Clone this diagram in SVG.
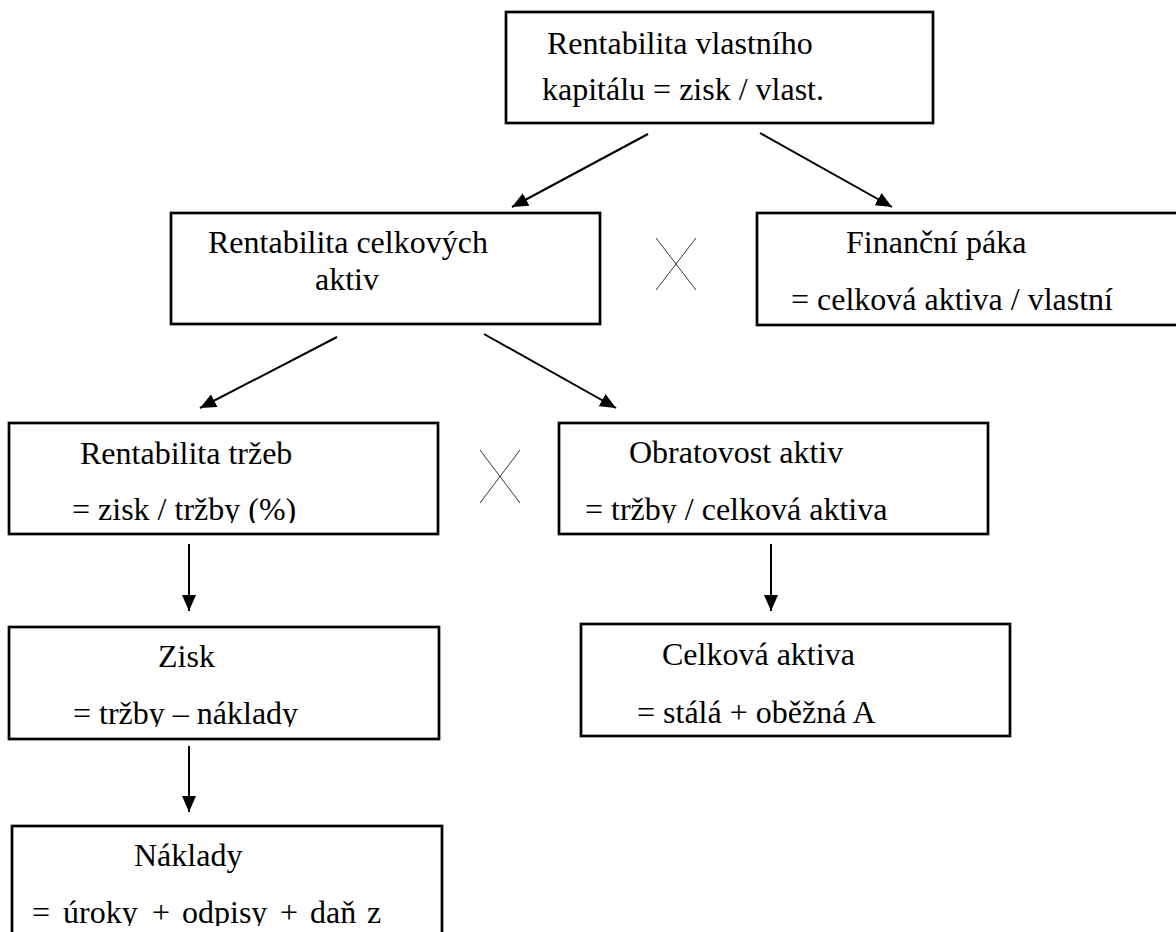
<svg xmlns="http://www.w3.org/2000/svg" width="1176" height="932" viewBox="0 0 1176 932">
<style>
.box{fill:#fff;stroke:#000;stroke-width:2.7}
.t{font-family:"Liberation Serif","Times New Roman",serif;font-size:32px;fill:#000}
.c{stroke:#000;stroke-width:2;fill:none;marker-end:url(#ah)}
.x{stroke:#000;stroke-width:0.8;fill:none}
</style>
<defs>
<marker id="ah" viewBox="0 0 16 14" refX="16" refY="7" markerWidth="16" markerHeight="14" markerUnits="userSpaceOnUse" orient="auto">
<path d="M0,0 L16,7 L0,14 z" fill="#000"/>
</marker>
<clipPath id="clRT"><rect x="0" y="420" width="450" height="103"/></clipPath>
<clipPath id="clOA"><rect x="550" y="420" width="450" height="103"/></clipPath>
<clipPath id="clZ"><rect x="0" y="620" width="450" height="107"/></clipPath>
<clipPath id="clN"><rect x="0" y="820" width="450" height="106"/></clipPath>
</defs>
<rect width="1176" height="932" fill="#fff"/>
<g id="connectors">
<line class="c" x1="648" y1="134" x2="512" y2="207"/>
<line class="c" x1="760" y1="133" x2="892" y2="207"/>
<line class="c" x1="337" y1="337" x2="200" y2="408"/>
<line class="c" x1="484" y1="334" x2="616" y2="408"/>
<line class="c" x1="189" y1="544" x2="189" y2="611"/>
<line class="c" x1="189" y1="746" x2="189" y2="812"/>
<line class="c" x1="771" y1="544" x2="771" y2="611"/>
</g>
<g id="mult1"><path class="x" d="M656,238 L696,290 M696,238 L656,290"/></g>
<g id="mult2"><path class="x" d="M480,450 L520,503 M520,450 L480,503"/></g>
<g id="n-rvk">
<rect class="box" x="506" y="12" width="427" height="111"/>
<text class="t" x="547" y="54">Rentabilita vlastního</text>
<text class="t" x="542" y="100">kapitálu = zisk / vlast.</text>
</g>
<g id="n-rca">
<rect class="box" x="171" y="213" width="429" height="111"/>
<text class="t" x="208" y="253">Rentabilita celkových</text>
<text class="t" x="315" y="290">aktiv</text>
</g>
<g id="n-fp">
<rect class="box" x="757" y="213" width="429" height="112"/>
<text class="t" x="846" y="253">Finanční páka</text>
<text class="t" x="791" y="310">= celková aktiva / vlastní</text>
</g>
<g id="n-rt">
<rect class="box" x="9" y="423" width="429" height="111"/>
<g clip-path="url(#clRT)">
<text class="t" x="80" y="464">Rentabilita tržeb</text>
<text class="t" x="72" y="520">= zisk / tržby (%)</text>
</g>
</g>
<g id="n-oa">
<rect class="box" x="559" y="423" width="429" height="111"/>
<g clip-path="url(#clOA)">
<text class="t" x="629" y="463">Obratovost aktiv</text>
<text class="t" x="585" y="520">= tržby / celková aktiva</text>
</g>
</g>
<g id="n-zisk">
<rect class="box" x="9" y="627" width="430" height="112"/>
<g clip-path="url(#clZ)">
<text class="t" x="158" y="667">Zisk</text>
<text class="t" x="73" y="724">= tržby – náklady</text>
</g>
</g>
<g id="n-ca">
<rect class="box" x="581" y="624" width="429" height="112"/>
<text class="t" x="662" y="665">Celková aktiva</text>
<text class="t" x="637" y="723">= stálá + oběžná A</text>
</g>
<g id="n-nakl">
<rect class="box" x="12" y="826" width="430" height="140"/>
<g clip-path="url(#clN)">
<text class="t" x="134" y="866">Náklady</text>
<text class="t" y="923"><tspan x="32">=</tspan><tspan x="63">úroky</tspan><tspan x="152">+</tspan><tspan x="182">odpisy</tspan><tspan x="280">+</tspan><tspan x="310">daň</tspan><tspan x="367">z</tspan></text>
</g>
</g>
</svg>
